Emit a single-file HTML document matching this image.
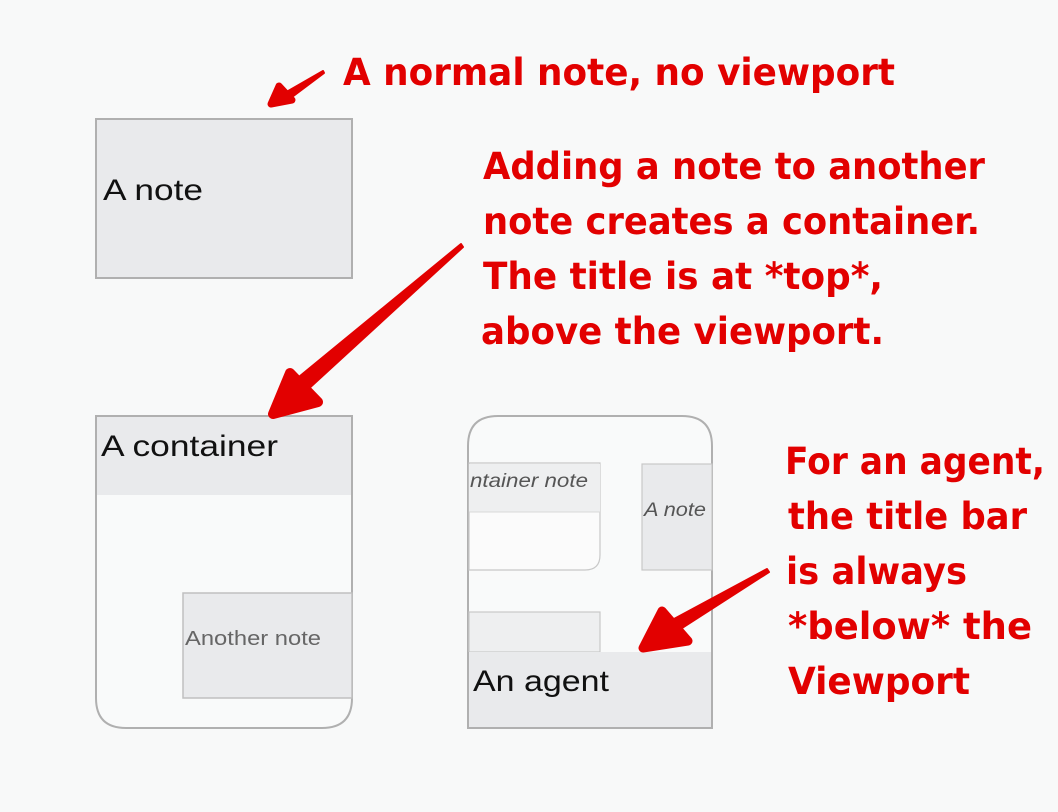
<!DOCTYPE html>
<html><head><meta charset="utf-8"><style>
html,body{margin:0;padding:0;background:#f8f9f9;}
svg{display:block;}
</style></head><body>
<svg width="1058" height="812" viewBox="0 0 1058 812" xmlns="http://www.w3.org/2000/svg">
<rect width="1058" height="812" fill="#f8f9f9"/>
<!-- note -->
<rect x="96" y="119" width="256" height="159" fill="#e9eaec" stroke="#b0b0b0" stroke-width="2"/>
<text x="103" y="200" font-family="Liberation Sans, sans-serif" font-size="30" fill="#111" textLength="100" lengthAdjust="spacingAndGlyphs">A note</text>
<!-- container -->
<path d="M96,416 H352 V698 Q352,728 322,728 H126 Q96,728 96,698 Z" fill="#f9fafa" stroke="#b0b0b0" stroke-width="2"/>
<rect x="97" y="417" width="254" height="78" fill="#e9eaec"/>
<text x="101" y="456" font-family="Liberation Sans, sans-serif" font-size="30" fill="#111" textLength="177" lengthAdjust="spacingAndGlyphs">A container</text>
<rect x="183" y="593" width="169" height="105" fill="#e9eaec" stroke="#c0c0c0" stroke-width="1.5"/>
<text x="185" y="645" font-family="Liberation Sans, sans-serif" font-size="20" fill="#666" textLength="136" lengthAdjust="spacingAndGlyphs">Another note</text>
<!-- agent -->
<path d="M468,728 V446 Q468,416 498,416 H682 Q712,416 712,446 V728 Z" fill="#f9fafa" stroke="#b0b0b0" stroke-width="2"/>
<path d="M469,463 H600 V555 Q600,570 585,570 H469 Z" fill="#fbfbfb" stroke="#c8c8c8" stroke-width="1.2"/>
<rect x="469" y="464" width="131" height="48" fill="#eeeff0"/>
<line x1="469" y1="512" x2="600" y2="512" stroke="#d8d8d8"/>
<text x="470" y="487" font-family="Liberation Sans, sans-serif" font-style="italic" font-size="19" fill="#555" textLength="118" lengthAdjust="spacingAndGlyphs">ntainer note</text>
<rect x="642" y="464" width="70" height="106" fill="#e9eaec" stroke="#c8c8c8" stroke-width="1.2"/>
<text x="644" y="516" font-family="Liberation Sans, sans-serif" font-style="italic" font-size="19" fill="#555" textLength="62" lengthAdjust="spacingAndGlyphs">A note</text>
<rect x="469" y="612" width="131" height="40" fill="#eeeff0" stroke="#c8c8c8" stroke-width="1.2"/>
<rect x="469" y="652" width="242" height="75" fill="#e9eaec"/>
<path d="M468,652 V728 H712 V652" fill="none" stroke="#b0b0b0" stroke-width="2"/>
<text x="473" y="691" font-family="Liberation Sans, sans-serif" font-size="30" fill="#111" textLength="136" lengthAdjust="spacingAndGlyphs">An agent</text>
<!-- arrows -->
<g fill="#e20000" stroke="#e20000" stroke-linecap="round" stroke-linejoin="round">
<polygon points="323,71 324,73 288,100 283,94" stroke-width="2"/>
<polygon points="279,86 271,104 292,100" stroke-width="7"/>
<polygon points="461,244 463,247 305,392 294,381" stroke-width="2"/>
<polygon points="290,373 273,414 318,402" stroke-width="10"/>
<polygon points="767,569 769,572 668,637 661,626" stroke-width="2"/>
<polygon points="662,611 643,648 688,641" stroke-width="9"/>
</g>
<!-- annotations -->
<g font-family="DejaVu Sans, sans-serif" font-weight="bold" font-size="37" fill="#e20000">
<text x="343" y="85" textLength="552" lengthAdjust="spacingAndGlyphs">A normal note, no viewport</text>
<text x="483" y="179" textLength="502" lengthAdjust="spacingAndGlyphs">Adding a note to another</text>
<text x="483" y="234" textLength="497" lengthAdjust="spacingAndGlyphs">note creates a container.</text>
<text x="483" y="289" textLength="400" lengthAdjust="spacingAndGlyphs">The title is at *top*,</text>
<text x="481" y="344" textLength="403" lengthAdjust="spacingAndGlyphs">above the viewport.</text>
<text x="785" y="474" textLength="260" lengthAdjust="spacingAndGlyphs">For an agent,</text>
<text x="788" y="529" textLength="239" lengthAdjust="spacingAndGlyphs">the title bar</text>
<text x="786" y="584" textLength="181" lengthAdjust="spacingAndGlyphs">is always</text>
<text x="788" y="639" textLength="244" lengthAdjust="spacingAndGlyphs">*below* the</text>
<text x="788" y="694" textLength="182" lengthAdjust="spacingAndGlyphs">Viewport</text>
</g>
</svg>
</body></html>
